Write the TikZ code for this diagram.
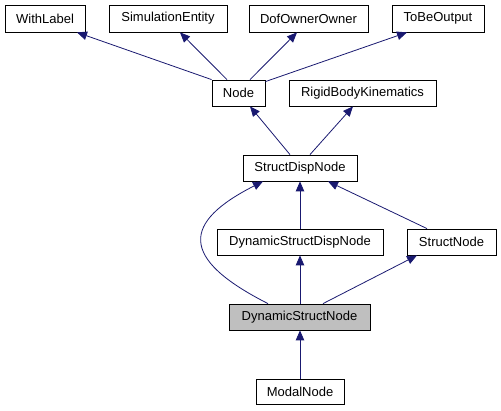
\documentclass[tikz,border=0pt]{standalone}
\usepackage{fontspec}
\setmainfont{Liberation Sans}
\usetikzlibrary{arrows.meta}
\definecolor{edgeblue}{RGB}{25,25,112}
\definecolor{curgray}{RGB}{191,191,191}

\begin{document}
\begin{tikzpicture}
[x=1pt,y=-1pt,%
  cls/.style={shape=rectangle,draw,line width=0.8pt,inner sep=0pt,
    minimum height=26pt,font=\fontsize{13}{15}\selectfont},%
  inh/.style={edgeblue,line width=0.8pt,
    -{Triangle[length=10pt,width=8.5pt]}}]
\useasboundingbox (0,0) rectangle (501,411);
\node[cls,minimum width=80pt,minimum height=27pt] (WithLabel) at (45,18.5) {WithLabel};
\node[cls,minimum width=118pt,minimum height=27pt] (SimulationEntity) at (168,18.5) {SimulationEntity};
\node[cls,minimum width=119pt,minimum height=27pt] (DofOwnerOwner) at (308.5,18.5) {DofOwnerOwner};
\node[cls,minimum width=92pt,minimum height=27pt] (ToBeOutput) at (438,18.5) {ToBeOutput};
\node[cls,minimum width=53pt] (Node) at (238.5,93) {Node};
\node[cls,minimum width=147pt] (RigidBodyKinematics) at (362.5,93) {RigidBodyKinematics};
\node[cls,minimum width=114pt] (StructDispNode) at (300,168) {StructDispNode};
\node[cls,minimum width=166pt] (DynamicStructDispNode) at (300,242) {DynamicStructDispNode};
\node[cls,minimum width=89pt] (StructNode) at (451.5,242) {StructNode};
\node[cls,minimum width=141pt,fill=curgray] (DynamicStructNode) at (299.5,317) {DynamicStructNode};
\node[cls,minimum width=88pt,minimum height=25pt] (ModalNode) at (300,391.5) {ModalNode};

\draw[inh] (Node.north west) -- ([xshift=32pt]WithLabel.south);
\draw[inh] ([xshift=-11.5pt]Node.north) -- ([xshift=12pt]SimulationEntity.south);
\draw[inh] ([xshift=11.5pt]Node.north) -- ([xshift=-11.5pt]DofOwnerOwner.south);
\draw[inh] ([yshift=-2pt]Node.north east) -- ([xshift=-31pt]ToBeOutput.south);
\draw[inh] ([xshift=-10pt]StructDispNode.north) -- ([xshift=11.5pt]Node.south);
\draw[inh] ([xshift=10pt]StructDispNode.north) -- ([xshift=-9.5pt]RigidBodyKinematics.south);
\draw[inh] (DynamicStructDispNode.north) -- (StructDispNode.south);
\draw[inh] ([xshift=-24.5pt]StructNode.north) -- ([xshift=28pt]StructDispNode.south);
\draw[inh] ([xshift=-31.5pt]DynamicStructNode.north)
  .. controls (178,258) and (183,222) .. ([xshift=-37pt]StructDispNode.south);
\draw[inh] ([xshift=0.5pt]DynamicStructNode.north) -- (DynamicStructDispNode.south);
\draw[inh] ([xshift=23.5pt]DynamicStructNode.north) -- ([xshift=-34.5pt]StructNode.south);
\draw[inh] (ModalNode.north) -- ([xshift=0.5pt]DynamicStructNode.south);
\end{tikzpicture}
\end{document}
